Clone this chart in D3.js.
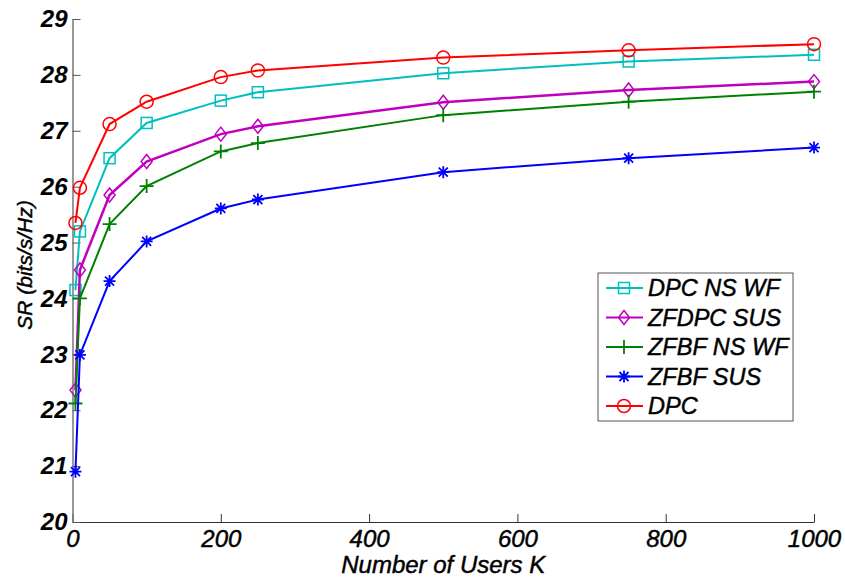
<!DOCTYPE html>
<html lang="en">
  <head>
    <meta charset="UTF-8" />
    <title>SR vs Number of Users</title>
    <script src="https://d3js.org/d3.v7.min.js"></script>
    <style>
      body {
        margin: 0;
        background: #fff;
      }
      text {
        font-family: "Liberation Sans", Arial, sans-serif;
        font-style: italic;
      }
      /* matlab text looks a bit heavier than plain regular */
      text.medium {
        stroke: #000;
        stroke-width: 0.45px;
      }
    </style>
  </head>
  <body>
    <div id="chart"></div>
    <script>
      // users K on the x axis
      const users = [4, 10, 50, 100, 200, 250, 500, 750, 1000];

      // sum rate (bits/s/Hz) per scheme
      const dpcNsWf = [24.15, 25.2, 26.51, 27.14, 27.54, 27.69, 28.03, 28.24, 28.36];
      const zfdpcSus = [22.36, 24.51, 25.85, 26.45, 26.94, 27.08, 27.51, 27.73, 27.88];
      const zfbfNsWf = [22.12, 24.0, 25.33, 26.01, 26.63, 26.78, 27.28, 27.52, 27.7];
      const zfbfSus = [20.9, 22.99, 24.31, 25.02, 25.61, 25.77, 26.26, 26.51, 26.7];
      const dpc = [25.35, 25.98, 27.12, 27.52, 27.96, 28.08, 28.31, 28.44, 28.55];

      const xTicks = [0, 200, 400, 600, 800, 1000];
      const yTicks = [20, 21, 22, 23, 24, 25, 26, 27, 28, 29];

      const series = [
        { name: "DPC NS WF", values: dpcNsWf, color: "#00bfbf", marker: "square", width: 2 },
        { name: "ZFDPC SUS", values: zfdpcSus, color: "#bf00bf", marker: "diamond", width: 2.5 },
        { name: "ZFBF NS WF", values: zfbfNsWf, color: "#008000", marker: "plus", width: 2 },
        { name: "ZFBF SUS", values: zfbfSus, color: "#0000ff", marker: "star", width: 2 },
        { name: "DPC", values: dpc, color: "#ff0000", marker: "circle", width: 2 }
      ];

      const width = 845;
      const height = 580;

      const svg = d3
        .select("#chart")
        .append("svg")
        .attr("width", width)
        .attr("height", height);

      const x = d3.scaleLinear().domain([0, 1000]).range([72.5, 814]);
      const y = d3.scaleLinear().domain([20, 29]).range([522, 19]);

      // axes (ticks point inward like matlab)
      const xAxis = svg
        .append("g")
        .attr("transform", "translate(0," + y(20) + ")")
        .call(
          d3.axisBottom(x).tickValues(xTicks).tickFormat(d3.format("d"))
            .tickSizeInner(-8).tickSizeOuter(0)
        );
      xAxis.select(".domain").attr("stroke", "#333").attr("stroke-width", 1.2);
      xAxis.selectAll(".tick line").attr("stroke", "#333");
      xAxis
        .selectAll(".tick text")
        .attr("class", "medium")
        .attr("font-size", 24)
        .attr("fill", "#000")
        .attr("dy", "0.75em")
        .attr("y", 7);

      const yAxis = svg
        .append("g")
        .attr("transform", "translate(" + x(0) + ",0)")
        .call(d3.axisLeft(y).tickValues(yTicks).tickSizeInner(-8).tickSizeOuter(0));
      yAxis.select(".domain").attr("stroke", "#777").attr("stroke-width", 1.5);
      yAxis.selectAll(".tick line").attr("stroke", "#555");
      yAxis
        .selectAll(".tick text")
        .attr("font-size", 24)
        .attr("font-weight", "bold")
        .attr("fill", "#000")
        .attr("x", -5);

      svg
        .append("text")
        .attr("class", "medium")
        .attr("x", (x(0) + x(1000)) / 2)
        .attr("y", 573)
        .attr("text-anchor", "middle")
        .attr("font-size", 24)
        .text("Number of Users K");

      svg
        .append("text")
        .attr("class", "medium")
        .attr("transform", "translate(32," + 265 + ") rotate(-90)")
        .attr("text-anchor", "middle")
        .attr("font-size", 21)
        .text("SR (bits/s/Hz)");

      const line = d3
        .line()
        .x((d, i) => x(users[i]))
        .y((d) => y(d));

      function drawMarker(g, type, color) {
        if (type === "circle") {
          g.append("circle").attr("r", 6.5).attr("fill", "none").attr("stroke", color).attr("stroke-width", 1.5);
        } else if (type === "square") {
          g.append("rect").attr("x", -5.5).attr("y", -5.5).attr("width", 11).attr("height", 11)
            .attr("fill", "none").attr("stroke", color).attr("stroke-width", 1.5);
        } else if (type === "diamond") {
          g.append("path").attr("d", "M0,-7L5.5,0L0,7L-5.5,0Z")
            .attr("fill", "none").attr("stroke", color).attr("stroke-width", 1.5);
        } else if (type === "plus") {
          g.append("path").attr("d", "M-7,0H7M0,-7V7").attr("stroke", color).attr("stroke-width", 1.8);
        } else if (type === "star") {
          g.append("path").attr("d", "M-6,0H6M0,-6V6M-4.5,-4.5L4.5,4.5M-4.5,4.5L4.5,-4.5")
            .attr("stroke", color).attr("stroke-width", 1.8);
        }
      }

      series.forEach((s) => {
        svg
          .append("path")
          .datum(s.values)
          .attr("fill", "none")
          .attr("stroke", s.color)
          .attr("stroke-width", s.width)
          .attr("d", line);

        s.values.forEach((v, i) => {
          const g = svg.append("g").attr("transform", "translate(" + x(users[i]) + "," + y(v) + ")");
          drawMarker(g, s.marker, s.color);
        });
      });

      // legend
      const legend = svg.append("g").attr("transform", "translate(598,273)");
      legend
        .append("rect")
        .attr("width", 195)
        .attr("height", 148)
        .attr("fill", "#fff")
        .attr("stroke", "#555")
        .attr("stroke-width", 1);

      series.forEach((s, i) => {
        const yy = 15 + i * 29.5;
        legend
          .append("line")
          .attr("x1", 8)
          .attr("x2", 45)
          .attr("y1", yy)
          .attr("y2", yy)
          .attr("stroke", s.color)
          .attr("stroke-width", 2);
        const g = legend.append("g").attr("transform", "translate(26," + yy + ")");
        drawMarker(g, s.marker, s.color);
        legend
          .append("text")
          .attr("class", "medium")
          .attr("x", 50)
          .attr("y", yy)
          .attr("dy", "0.36em")
          .attr("font-size", 23.5)
          .text(s.name);
      });
    </script>
  </body>
</html>
